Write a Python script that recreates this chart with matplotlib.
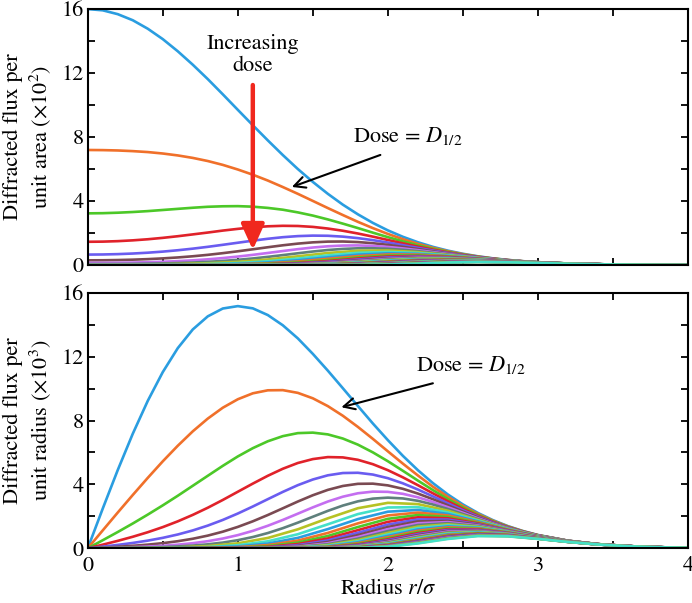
import numpy as np
import matplotlib
matplotlib.use("Agg")
import matplotlib.pyplot as plt
from matplotlib.ticker import MultipleLocator

# ---------------------------------------------------
# radius grid (r / sigma)
# ---------------------------------------------------
radius = [0.0, 0.2, 0.4, 0.6, 0.8, 1.0, 1.2, 1.4, 1.6, 1.8, 2.0,
          2.2, 2.4, 2.6, 2.8, 3.0, 3.2, 3.4, 3.6, 3.8, 4.0]
# extra in-between points, read only for the 8 biggest curves
radius_mid = [0.1, 0.3, 0.5, 0.7, 0.9, 1.1, 1.3, 1.5, 1.7, 1.9,
              2.1, 2.3, 2.5, 2.7, 2.9]

# ---------------------------------------------------
# diffracted flux per unit area (x10^2)
# one list per radius point, 40 dose steps in each
# ---------------------------------------------------
area_by_radius = [
    # r = 0.0
    [16.0, 7.19, 3.23, 1.452, 0.652, 0.293, 0.132, 0.059, 0.027, 0.012,
     0.005, 0, 0, 0, 0, 0, 0, 0, 0, 0,
     0, 0, 0, 0, 0, 0, 0, 0, 0, 0,
     0, 0, 0, 0, 0, 0, 0, 0, 0, 0],
    # r = 0.2
    [15.68, 7.16, 3.27, 1.492, 0.681, 0.311, 0.142, 0.065, 0.030, 0.014,
     0.006, 0.003, 0, 0, 0, 0, 0, 0, 0, 0,
     0, 0, 0, 0, 0, 0, 0, 0, 0, 0,
     0, 0, 0, 0, 0, 0, 0, 0, 0, 0],
    # r = 0.4
    [14.77, 7.06, 3.37, 1.61, 0.770, 0.368, 0.176, 0.084, 0.040, 0.019,
     0.009, 0.004, 0.002, 0, 0, 0, 0, 0, 0, 0,
     0, 0, 0, 0, 0, 0, 0, 0, 0, 0,
     0, 0, 0, 0, 0, 0, 0, 0, 0, 0],
    # r = 0.6
    [13.36, 6.85, 3.51, 1.80, 0.923, 0.473, 0.243, 0.124, 0.064, 0.033,
     0.017, 0.009, 0.004, 0.002, 0, 0, 0, 0, 0, 0,
     0, 0, 0, 0, 0, 0, 0, 0, 0, 0,
     0, 0, 0, 0, 0, 0, 0, 0, 0, 0],
    # r = 0.8
    [11.62, 6.50, 3.64, 2.03, 1.137, 0.636, 0.356, 0.199, 0.111, 0.062,
     0.035, 0.020, 0.011, 0.006, 0.003, 0.002, 0, 0, 0, 0,
     0, 0, 0, 0, 0, 0, 0, 0, 0, 0,
     0, 0, 0, 0, 0, 0, 0, 0, 0, 0],
    # r = 1.0
    [9.70, 5.97, 3.68, 2.26, 1.393, 0.858, 0.528, 0.325, 0.200, 0.123,
     0.076, 0.047, 0.029, 0.018, 0.011, 0.007, 0.004, 0.003, 0.002, 0.001,
     0, 0, 0, 0, 0, 0, 0, 0, 0, 0,
     0, 0, 0, 0, 0, 0, 0, 0, 0, 0],
    # r = 1.2
    [7.79, 5.28, 3.57, 2.42, 1.64, 1.111, 0.753, 0.510, 0.346, 0.234,
     0.159, 0.107, 0.073, 0.049, 0.033, 0.023, 0.015, 0.010, 0.007, 0.005,
     0.003, 0.002, 0.001, 0, 0, 0, 0, 0, 0, 0,
     0, 0, 0, 0, 0, 0, 0, 0, 0, 0],
    # r = 1.4
    [6.00, 4.45, 3.29, 2.44, 1.807, 1.338, 0.991, 0.734, 0.544, 0.403,
     0.298, 0.221, 0.164, 0.121, 0.090, 0.067, 0.049, 0.037, 0.027, 0.020,
     0.015, 0.011, 0.008, 0.006, 0.004, 0.003, 0.002, 0.002, 0.001, 0.001,
     0.001, 0, 0, 0, 0, 0, 0, 0, 0, 0],
    # r = 1.6
    [4.45, 3.56, 2.85, 2.28, 1.828, 1.463, 1.171, 0.938, 0.751, 0.601,
     0.481, 0.385, 0.308, 0.247, 0.198, 0.158, 0.127, 0.101, 0.081, 0.065,
     0.052, 0.042, 0.033, 0.027, 0.021, 0.017, 0.014, 0.011, 0.009, 0.007,
     0.006, 0.005, 0.004, 0.003, 0.002, 0.002, 0.001, 0.001, 0.001, 0.001],
    # r = 1.8
    [3.17, 2.70, 2.31, 1.97, 1.681, 1.435, 1.225, 1.045, 0.892, 0.762,
     0.650, 0.555, 0.474, 0.404, 0.345, 0.295, 0.251, 0.215, 0.183, 0.156,
     0.134, 0.114, 0.097, 0.083, 0.071, 0.061, 0.052, 0.044, 0.038, 0.032,
     0.027, 0.023, 0.020, 0.017, 0.015, 0.012, 0.011, 0.009, 0.008, 0.007],
    # r = 2.0
    [2.165, 1.943, 1.743, 1.565, 1.404, 1.260, 1.131, 1.015, 0.911, 0.817,
     0.733, 0.658, 0.591, 0.530, 0.476, 0.427, 0.383, 0.344, 0.308, 0.277,
     0.248, 0.223, 0.200, 0.180, 0.161, 0.145, 0.130, 0.116, 0.105, 0.094,
     0.084, 0.076, 0.068, 0.061, 0.055, 0.049, 0.044, 0.039, 0.035, 0.032],
    # r = 2.2
    [1.423, 1.325, 1.234, 1.150, 1.071, 0.997, 0.929, 0.865, 0.805, 0.750,
     0.699, 0.651, 0.606, 0.564, 0.526, 0.490, 0.456, 0.425, 0.396, 0.368,
     0.343, 0.319, 0.298, 0.277, 0.258, 0.240, 0.224, 0.209, 0.194, 0.181,
     0.168, 0.157, 0.146, 0.136, 0.127, 0.118, 0.110, 0.102, 0.095, 0.089],
    # r = 2.4
    [0.898, 0.859, 0.821, 0.785, 0.750, 0.717, 0.686, 0.656, 0.627, 0.600,
     0.573, 0.548, 0.524, 0.501, 0.479, 0.458, 0.438, 0.419, 0.400, 0.383,
     0.366, 0.350, 0.334, 0.320, 0.306, 0.292, 0.279, 0.267, 0.255, 0.244,
     0.234, 0.223, 0.213, 0.204, 0.195, 0.187, 0.178, 0.171, 0.163, 0.156],
    # r = 2.6
    [0.545, 0.530, 0.516, 0.502, 0.489, 0.476, 0.463, 0.450, 0.438, 0.427,
     0.415, 0.404, 0.393, 0.383, 0.372, 0.362, 0.353, 0.343, 0.334, 0.325,
     0.316, 0.308, 0.299, 0.291, 0.284, 0.276, 0.268, 0.261, 0.254, 0.247,
     0.241, 0.234, 0.228, 0.222, 0.216, 0.210, 0.204, 0.199, 0.194, 0.188],
    # r = 2.8
    [0.317, 0.312, 0.307, 0.302, 0.298, 0.293, 0.288, 0.284, 0.279, 0.275,
     0.271, 0.266, 0.262, 0.258, 0.254, 0.250, 0.246, 0.242, 0.238, 0.235,
     0.231, 0.227, 0.224, 0.220, 0.217, 0.213, 0.210, 0.207, 0.203, 0.200,
     0.197, 0.194, 0.191, 0.188, 0.185, 0.182, 0.179, 0.176, 0.173, 0.171],
    # r = 3.0
    [0.178, 0.176, 0.175, 0.173, 0.172, 0.170, 0.169, 0.167, 0.166, 0.164,
     0.163, 0.161, 0.160, 0.159, 0.157, 0.156, 0.154, 0.153, 0.152, 0.150,
     0.149, 0.148, 0.146, 0.145, 0.144, 0.143, 0.141, 0.140, 0.139, 0.138,
     0.136, 0.135, 0.134, 0.133, 0.132, 0.130, 0.129, 0.128, 0.127, 0.126],
    # r = 3.2
    [0.096, 0.095, 0.095, 0.094, 0.094, 0.093, 0.093, 0.093, 0.092, 0.092,
     0.091, 0.091, 0.090, 0.090, 0.090, 0.089, 0.089, 0.088, 0.088, 0.087,
     0.087, 0.087, 0.086, 0.086, 0.085, 0.085, 0.085, 0.084, 0.084, 0.083,
     0.083, 0.083, 0.082, 0.082, 0.081, 0.081, 0.081, 0.080, 0.080, 0.079],
    # r = 3.4
    [0.049, 0.049, 0.049, 0.048, 0.048, 0.048, 0.048, 0.048, 0.048, 0.048,
     0.048, 0.048, 0.048, 0.048, 0.047, 0.047, 0.047, 0.047, 0.047, 0.047,
     0.047, 0.047, 0.047, 0.047, 0.047, 0.046, 0.046, 0.046, 0.046, 0.046,
     0.046, 0.046, 0.046, 0.046, 0.046, 0.046, 0.045, 0.045, 0.045, 0.045],
    # r = 3.6
    [0.024, 0.024, 0.024, 0.024, 0.024, 0.024, 0.024, 0.024, 0.024, 0.024,
     0.024, 0.024, 0.024, 0.024, 0.024, 0.024, 0.024, 0.024, 0.024, 0.024,
     0.023, 0.023, 0.023, 0.023, 0.023, 0.023, 0.023, 0.023, 0.023, 0.023,
     0.023, 0.023, 0.023, 0.023, 0.023, 0.023, 0.023, 0.023, 0.023, 0.023],
    # r = 3.8
    [0.012, 0.012, 0.012, 0.012, 0.012, 0.012, 0.012, 0.012, 0.012, 0.012,
     0.012, 0.012, 0.012, 0.012, 0.012, 0.012, 0.012, 0.012, 0.012, 0.012,
     0.012, 0.012, 0.012, 0.012, 0.012, 0.012, 0.012, 0.012, 0.012, 0.012,
     0.012, 0.012, 0.012, 0.012, 0.012, 0.012, 0.012, 0.012, 0.012, 0.012],
    # r = 4.0
    [0.005, 0.005, 0.005, 0.005, 0.005, 0.005, 0.005, 0.005, 0.005, 0.005,
     0.005, 0.005, 0.005, 0.005, 0.005, 0.005, 0.005, 0.005, 0.005, 0.005,
     0.005, 0.005, 0.005, 0.005, 0.005, 0.005, 0.005, 0.005, 0.005, 0.005,
     0.005, 0.005, 0.005, 0.005, 0.005, 0.005, 0.005, 0.005, 0.005, 0.005],
]

# in-between points of the first 8 curves (per unit area)
area_mid_by_radius = [
    [15.92, 7.182, 3.240, 1.462, 0.659, 0.297, 0.134, 0.061],   # r = 0.1
    [15.30, 7.119, 3.313, 1.542, 0.718, 0.334, 0.155, 0.072],   # r = 0.3
    [14.12, 6.970, 3.440, 1.698, 0.838, 0.414, 0.204, 0.101],   # r = 0.5
    [12.52, 6.695, 3.580, 1.914, 1.023, 0.547, 0.293, 0.156],   # r = 0.7
    [10.67, 6.259, 3.671, 2.153, 1.263, 0.741, 0.434, 0.255],   # r = 0.9
    [8.737, 5.645, 3.647, 2.356, 1.522, 0.983, 0.635, 0.410],   # r = 1.1
    [6.873, 4.874, 3.457, 2.451, 1.739, 1.233, 0.874, 0.620],   # r = 1.3
    [5.194, 4.006, 3.090, 2.383, 1.838, 1.417, 1.093, 0.843],   # r = 1.5
    [3.772, 3.124, 2.587, 2.142, 1.774, 1.469, 1.217, 1.007],   # r = 1.7
    [2.632, 2.307, 2.023, 1.774, 1.555, 1.363, 1.195, 1.048],   # r = 1.9
    [1.764, 1.615, 1.479, 1.354, 1.240, 1.135, 1.039, 0.951],   # r = 2.1
    [1.136, 1.073, 1.014, 0.958, 0.905, 0.855, 0.808, 0.763],   # r = 2.3
    [0.703, 0.679, 0.655, 0.633, 0.611, 0.590, 0.569, 0.550],   # r = 2.5
    [0.418, 0.409, 0.401, 0.393, 0.384, 0.377, 0.369, 0.361],   # r = 2.7
    [0.239, 0.236, 0.233, 0.231, 0.228, 0.225, 0.222, 0.220],   # r = 2.9
]

# ---------------------------------------------------
# diffracted flux per unit radius (x10^3)
# ---------------------------------------------------
radial_by_radius = [
    # r = 0.0
    [0, 0, 0, 0, 0, 0, 0, 0, 0, 0,
     0, 0, 0, 0, 0, 0, 0, 0, 0, 0,
     0, 0, 0, 0, 0, 0, 0, 0, 0, 0,
     0, 0, 0, 0, 0, 0, 0, 0, 0, 0],
    # r = 0.2
    [4.90, 2.24, 1.02, 0.466, 0.213, 0.097, 0.044, 0.020, 0.009, 0.004,
     0.002, 0, 0, 0, 0, 0, 0, 0, 0, 0,
     0, 0, 0, 0, 0, 0, 0, 0, 0, 0,
     0, 0, 0, 0, 0, 0, 0, 0, 0, 0],
    # r = 0.4
    [9.23, 4.41, 2.11, 1.007, 0.481, 0.230, 0.110, 0.053, 0.025, 0.012,
     0.006, 0.003, 0.001, 0, 0, 0, 0, 0, 0, 0,
     0, 0, 0, 0, 0, 0, 0, 0, 0, 0,
     0, 0, 0, 0, 0, 0, 0, 0, 0, 0],
    # r = 0.6
    [12.53, 6.42, 3.29, 1.688, 0.865, 0.444, 0.227, 0.117, 0.060, 0.031,
     0.016, 0.008, 0.004, 0.002, 0, 0, 0, 0, 0, 0,
     0, 0, 0, 0, 0, 0, 0, 0, 0, 0,
     0, 0, 0, 0, 0, 0, 0, 0, 0, 0],
    # r = 0.8
    [14.52, 8.12, 4.54, 2.54, 1.422, 0.795, 0.445, 0.249, 0.139, 0.078,
     0.044, 0.024, 0.014, 0.008, 0.004, 0.002, 0, 0, 0, 0,
     0, 0, 0, 0, 0, 0, 0, 0, 0, 0,
     0, 0, 0, 0, 0, 0, 0, 0, 0, 0],
    # r = 1.0
    [15.16, 9.33, 5.75, 3.54, 2.177, 1.340, 0.825, 0.508, 0.313, 0.192,
     0.118, 0.073, 0.045, 0.028, 0.017, 0.011, 0.006, 0.004, 0.002, 0.001,
     0, 0, 0, 0, 0, 0, 0, 0, 0, 0,
     0, 0, 0, 0, 0, 0, 0, 0, 0, 0],
    # r = 1.2
    [14.60, 9.89, 6.70, 4.54, 3.076, 2.084, 1.412, 0.956, 0.648, 0.439,
     0.297, 0.201, 0.136, 0.092, 0.063, 0.042, 0.029, 0.019, 0.013, 0.009,
     0.006, 0.004, 0.003, 0.002, 0.001, 0, 0, 0, 0, 0,
     0, 0, 0, 0, 0, 0, 0, 0, 0, 0],
    # r = 1.4
    [13.14, 9.73, 7.21, 5.34, 3.953, 2.928, 2.168, 1.606, 1.189, 0.881,
     0.653, 0.483, 0.358, 0.265, 0.196, 0.145, 0.108, 0.080, 0.059, 0.044,
     0.032, 0.024, 0.018, 0.013, 0.010, 0.007, 0.005, 0.004, 0.003, 0.002,
     0.002, 0.001, 0, 0, 0, 0, 0, 0, 0, 0],
    # r = 1.6
    [11.12, 8.90, 7.13, 5.71, 4.569, 3.658, 2.928, 2.344, 1.877, 1.503,
     1.203, 0.963, 0.771, 0.617, 0.494, 0.396, 0.317, 0.254, 0.203, 0.163,
     0.130, 0.104, 0.083, 0.067, 0.054, 0.043, 0.034, 0.027, 0.022, 0.018,
     0.014, 0.011, 0.009, 0.007, 0.006, 0.005, 0.004, 0.003, 0.002, 0.002],
    # r = 1.8
    [8.91, 7.60, 6.49, 5.54, 4.728, 4.036, 3.445, 2.940, 2.510, 2.142,
     1.829, 1.561, 1.332, 1.137, 0.971, 0.829, 0.707, 0.604, 0.515, 0.440,
     0.376, 0.321, 0.274, 0.234, 0.199, 0.170, 0.145, 0.124, 0.106, 0.090,
     0.077, 0.066, 0.056, 0.048, 0.041, 0.035, 0.030, 0.026, 0.022, 0.019],
    # r = 2.0
    [6.77, 6.07, 5.45, 4.89, 4.389, 3.938, 3.534, 3.171, 2.846, 2.554,
     2.292, 2.057, 1.846, 1.656, 1.486, 1.334, 1.197, 1.074, 0.964, 0.865,
     0.776, 0.697, 0.625, 0.561, 0.503, 0.452, 0.405, 0.364, 0.327, 0.293,
     0.263, 0.236, 0.212, 0.190, 0.171, 0.153, 0.137, 0.123, 0.111, 0.099],
    # r = 2.2
    [4.89, 4.56, 4.24, 3.95, 3.680, 3.427, 3.192, 2.973, 2.768, 2.578,
     2.401, 2.236, 2.083, 1.940, 1.807, 1.683, 1.567, 1.459, 1.359, 1.266,
     1.179, 1.098, 1.023, 0.952, 0.887, 0.826, 0.769, 0.717, 0.667, 0.622,
     0.579, 0.539, 0.502, 0.468, 0.436, 0.406, 0.378, 0.352, 0.328, 0.305],
    # r = 2.4
    [3.368, 3.220, 3.079, 2.944, 2.814, 2.691, 2.573, 2.460, 2.352, 2.248,
     2.150, 2.055, 1.965, 1.879, 1.796, 1.717, 1.642, 1.570, 1.501, 1.435,
     1.372, 1.312, 1.254, 1.199, 1.147, 1.096, 1.048, 1.002, 0.958, 0.916,
     0.876, 0.837, 0.801, 0.765, 0.732, 0.700, 0.669, 0.640, 0.611, 0.585],
    # r = 2.6
    [2.213, 2.154, 2.096, 2.039, 1.985, 1.931, 1.879, 1.829, 1.780, 1.732,
     1.685, 1.640, 1.596, 1.553, 1.511, 1.471, 1.431, 1.393, 1.355, 1.319,
     1.283, 1.249, 1.215, 1.183, 1.151, 1.120, 1.090, 1.061, 1.032, 1.004,
     0.977, 0.951, 0.926, 0.901, 0.877, 0.853, 0.830, 0.808, 0.786, 0.765],
    # r = 2.8
    [1.389, 1.367, 1.346, 1.324, 1.304, 1.283, 1.263, 1.243, 1.223, 1.204,
     1.185, 1.167, 1.148, 1.130, 1.112, 1.095, 1.078, 1.061, 1.044, 1.027,
     1.011, 0.995, 0.980, 0.964, 0.949, 0.934, 0.920, 0.905, 0.891, 0.877,
     0.863, 0.849, 0.836, 0.823, 0.810, 0.797, 0.785, 0.772, 0.760, 0.748],
    # r = 3.0
    [0.833, 0.826, 0.818, 0.811, 0.804, 0.797, 0.790, 0.783, 0.776, 0.769,
     0.762, 0.755, 0.749, 0.742, 0.736, 0.729, 0.723, 0.716, 0.710, 0.704,
     0.697, 0.691, 0.685, 0.679, 0.673, 0.667, 0.661, 0.655, 0.650, 0.644,
     0.638, 0.632, 0.627, 0.621, 0.616, 0.610, 0.605, 0.600, 0.594, 0.589],
    # r = 3.2
    [0.478, 0.476, 0.473, 0.471, 0.469, 0.467, 0.465, 0.462, 0.460, 0.458,
     0.456, 0.454, 0.451, 0.449, 0.447, 0.445, 0.443, 0.441, 0.439, 0.437,
     0.434, 0.432, 0.430, 0.428, 0.426, 0.424, 0.422, 0.420, 0.418, 0.416,
     0.414, 0.412, 0.410, 0.408, 0.406, 0.404, 0.403, 0.401, 0.399, 0.397],
    # r = 3.4
    [0.263, 0.262, 0.262, 0.261, 0.260, 0.260, 0.259, 0.258, 0.258, 0.257,
     0.257, 0.256, 0.255, 0.255, 0.254, 0.254, 0.253, 0.252, 0.252, 0.251,
     0.250, 0.250, 0.249, 0.249, 0.248, 0.247, 0.247, 0.246, 0.246, 0.245,
     0.244, 0.244, 0.243, 0.243, 0.242, 0.241, 0.241, 0.240, 0.240, 0.239],
    # r = 3.6
    [0.138, 0.138, 0.138, 0.137, 0.137, 0.137, 0.137, 0.137, 0.137, 0.136,
     0.136, 0.136, 0.136, 0.136, 0.136, 0.135, 0.135, 0.135, 0.135, 0.135,
     0.135, 0.134, 0.134, 0.134, 0.134, 0.134, 0.134, 0.133, 0.133, 0.133,
     0.133, 0.133, 0.133, 0.132, 0.132, 0.132, 0.132, 0.132, 0.132, 0.131],
    # r = 3.8
    [0.069, 0.069, 0.069, 0.069, 0.069, 0.069, 0.069, 0.069, 0.069, 0.069,
     0.069, 0.069, 0.069, 0.068, 0.068, 0.068, 0.068, 0.068, 0.068, 0.068,
     0.068, 0.068, 0.068, 0.068, 0.068, 0.068, 0.068, 0.068, 0.068, 0.068,
     0.068, 0.067, 0.067, 0.067, 0.067, 0.067, 0.067, 0.067, 0.067, 0.067],
    # r = 4.0
    [0.034, 0.034, 0.034, 0.034, 0.034, 0.034, 0.034, 0.034, 0.034, 0.034,
     0.034, 0.034, 0.034, 0.034, 0.034, 0.034, 0.034, 0.034, 0.034, 0.034,
     0.033, 0.033, 0.033, 0.033, 0.033, 0.033, 0.033, 0.033, 0.033, 0.033,
     0.033, 0.033, 0.033, 0.033, 0.033, 0.033, 0.033, 0.033, 0.033, 0.033],
]

# in-between points of the first 8 curves (per unit radius)
radial_mid_by_radius = [
    [2.488, 1.122, 0.506, 0.228, 0.103, 0.046, 0.021, 0.009],   # r = 0.1
    [7.170, 3.337, 1.553, 0.723, 0.336, 0.157, 0.073, 0.034],   # r = 0.3
    [11.03, 5.445, 2.688, 1.327, 0.655, 0.323, 0.160, 0.079],   # r = 0.5
    [13.70, 7.323, 3.915, 2.093, 1.119, 0.598, 0.320, 0.171],   # r = 0.7
    [15.01, 8.801, 5.162, 3.027, 1.776, 1.041, 0.611, 0.358],   # r = 0.9
    [15.02, 9.702, 6.268, 4.050, 2.616, 1.690, 1.092, 0.706],   # r = 1.1
    [13.96, 9.901, 7.021, 4.980, 3.531, 2.504, 1.776, 1.260],   # r = 1.3
    [12.17, 9.389, 7.241, 5.585, 4.307, 3.322, 2.562, 1.976],   # r = 1.5
    [10.02, 8.297, 6.871, 5.690, 4.712, 3.902, 3.231, 2.676],   # r = 1.7
    [7.813, 6.850, 6.005, 5.265, 4.616, 4.047, 3.548, 3.110],   # r = 1.9
    [5.788, 5.299, 4.852, 4.442, 4.067, 3.724, 3.410, 3.122],   # r = 2.1
    [4.083, 3.858, 3.645, 3.443, 3.253, 3.074, 2.904, 2.743],   # r = 2.3
    [2.746, 2.651, 2.560, 2.471, 2.386, 2.303, 2.224, 2.147],   # r = 2.5
    [1.763, 1.727, 1.691, 1.656, 1.622, 1.588, 1.555, 1.523],   # r = 2.7
    [1.082, 1.069, 1.056, 1.044, 1.032, 1.019, 1.007, 0.995],   # r = 2.9
]

line_colors = ["#2a9de0", "#f0702a", "#4cc828", "#e0222a", "#6a5cf0",
               "#7a4a52", "#c46ef0", "#5f807c", "#b6c224", "#44e0c8"]

# ---------------------------------------------------
# figure
# ---------------------------------------------------
plt.rcParams["font.family"] = "STIXGeneral"
plt.rcParams["mathtext.fontset"] = "stix"

area = np.array(area_by_radius).T
radial = np.array(radial_by_radius).T
area_mid = np.array(area_mid_by_radius).T
radial_mid = np.array(radial_mid_by_radius).T

r_all = np.array(radius + radius_mid)
order = np.argsort(r_all)


def draw_curves(ax, coarse, fine):
    for i, curve in enumerate(coarse):
        if i < len(fine):
            x = r_all[order]
            y = np.concatenate([curve, fine[i]])[order]
        else:
            x, y = radius, curve
        ax.plot(x, y, color=line_colors[i % 10], lw=1.9)


fig = plt.figure(figsize=(6.92, 6.03), dpi=100)
ax1 = fig.add_axes([0.1268, 0.5605, 0.8674, 0.4245])
ax2 = fig.add_axes([0.1268, 0.0907, 0.8674, 0.4239])

draw_curves(ax1, area, area_mid)
draw_curves(ax2, radial, radial_mid)

for ax in (ax1, ax2):
    ax.set_xlim(0, 4)
    ax.set_ylim(0, 16)
    ax.xaxis.set_major_locator(MultipleLocator(1))
    ax.xaxis.set_minor_locator(MultipleLocator(0.5))
    ax.yaxis.set_major_locator(MultipleLocator(4))
    ax.yaxis.set_minor_locator(MultipleLocator(2))
    ax.tick_params(which="both", direction="in", top=True, right=True,
                   length=5, width=1.3, labelsize=16)
    ax.tick_params(axis="x", pad=6)
    ax.tick_params(axis="y", pad=3)
    for s in ax.spines.values():
        s.set_linewidth(1.5)

ax1.tick_params(labelbottom=False)

ax1.set_ylabel("Diffracted flux per\nunit area ($\\times10^{2}$)", fontsize=16, labelpad=6)
ax2.set_ylabel("Diffracted flux per\nunit radius ($\\times10^{3}$)", fontsize=16, labelpad=6)
ax2.set_xlabel("Radius $r/\\sigma$", fontsize=16, labelpad=2)

# annotations
ax1.text(1.10, 13.1, "Increasing\ndose", fontsize=16, ha="center", va="center",
         linespacing=1.15)
ax1.annotate("", xy=(1.10, 0.95), xytext=(1.10, 11.25),
             arrowprops=dict(arrowstyle="-|>,head_length=1.1,head_width=0.5",
                             lw=3.2, color="#f0281e", mutation_scale=14,
                             shrinkA=0, shrinkB=0), zorder=5)

ax1.text(1.77, 8.06, "Dose = $D_{1/2}$", fontsize=16, ha="left", va="center")
ax1.annotate("", xy=(1.36, 4.88), xytext=(1.95, 6.88),
             arrowprops=dict(arrowstyle="->", lw=1.5, color="black",
                             mutation_scale=20, shrinkA=0, shrinkB=0))

ax2.text(2.19, 11.46, "Dose = $D_{1/2}$", fontsize=16, ha="left", va="center")
ax2.annotate("", xy=(1.69, 8.83), xytext=(2.30, 10.33),
             arrowprops=dict(arrowstyle="->", lw=1.5, color="black",
                             mutation_scale=20, shrinkA=0, shrinkB=0))

fig.savefig("out.png", dpi=100)
